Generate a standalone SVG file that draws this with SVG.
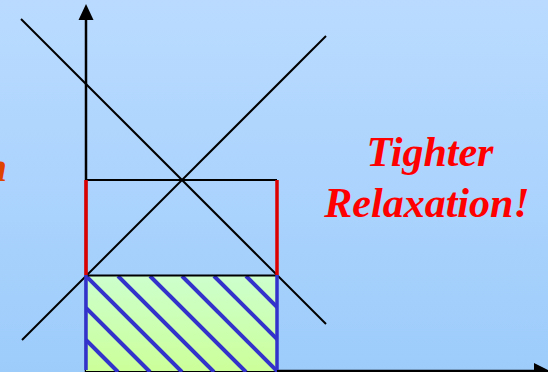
<svg xmlns="http://www.w3.org/2000/svg" width="548" height="372" viewBox="0 0 548 372">
  <style>
    .ax { stroke: #000; stroke-width: 2.5; fill: none; }
    .ln { stroke: #000; stroke-width: 2; fill: none; }
    .red { stroke: #DD0000; stroke-width: 3.5; fill: none; }
    .blue { stroke: #3333CC; stroke-width: 3.5; fill: none; }
    .hatch { stroke: #3333CC; stroke-width: 4; fill: none; }
    .big { font-family: "Liberation Serif", "Times New Roman", serif; font-weight: bold; font-style: italic; font-size: 42px; }
  </style>
  <defs>
    <linearGradient id="bg" x1="0" y1="0" x2="0" y2="1">
      <stop offset="0" stop-color="#BADBFF"/>
      <stop offset="1" stop-color="#9DCCFB"/>
    </linearGradient>
    <linearGradient id="gr" x1="0" y1="0" x2="0" y2="1">
      <stop offset="0" stop-color="#CCFFCC"/>
      <stop offset="1" stop-color="#CCFF99"/>
    </linearGradient>
    <clipPath id="boxclip"><rect x="86" y="276" width="191" height="96"/></clipPath>
  </defs>
  <rect x="0" y="0" width="548" height="372" fill="url(#bg)"/>

  <g id="axes">
    <line class="ax" x1="86" y1="372" x2="86" y2="18"/>
    <polygon points="86,4 78.5,20 93.5,20" fill="#000"/>
    <line class="ax" x1="86" y1="371" x2="536" y2="371"/>
    <polygon points="534,363 551,371.5 534,380" fill="#000"/>
  </g>

  <g id="feasible-region">
    <rect x="86" y="276" width="191" height="95" fill="url(#gr)"/>
    <g clip-path="url(#boxclip)" class="hatch">
      <line x1="86" y1="340" x2="118" y2="372"/>
      <line x1="86" y1="308" x2="150" y2="372"/>
      <line x1="86" y1="276" x2="182" y2="372"/>
      <line x1="118" y1="276" x2="214" y2="372"/>
      <line x1="150" y1="276" x2="246" y2="372"/>
      <line x1="182" y1="276" x2="278" y2="372"/>
      <line x1="214" y1="276" x2="278" y2="340"/>
      <line x1="246" y1="276" x2="278" y2="308"/>
    </g>
  </g>

  <g id="connectors">
    <line class="ln" x1="21" y1="19" x2="326" y2="324"/>
    <line class="ln" x1="22" y1="340" x2="326" y2="36"/>
    <line class="ln" x1="86" y1="180" x2="277" y2="180"/>
    <line class="ln" x1="86" y1="275.5" x2="277" y2="275.5"/>
    <line class="red" x1="86" y1="180" x2="86" y2="275"/>
    <line class="red" x1="277" y1="180" x2="277" y2="275"/>
    <line class="blue" x1="86" y1="275" x2="86" y2="370"/>
    <line class="blue" x1="277" y1="275" x2="277" y2="370"/>
  </g>

  <g id="label-left">
    <text class="big" x="7" y="181" text-anchor="end" fill="#DD4400">n</text>
  </g>
  <g id="label-right">
    <text class="big" x="430" y="166" text-anchor="middle" fill="#FF0000">Tighter</text>
    <text class="big" x="427" y="217" text-anchor="middle" fill="#FF0000">Relaxation!</text>
  </g>
</svg>
